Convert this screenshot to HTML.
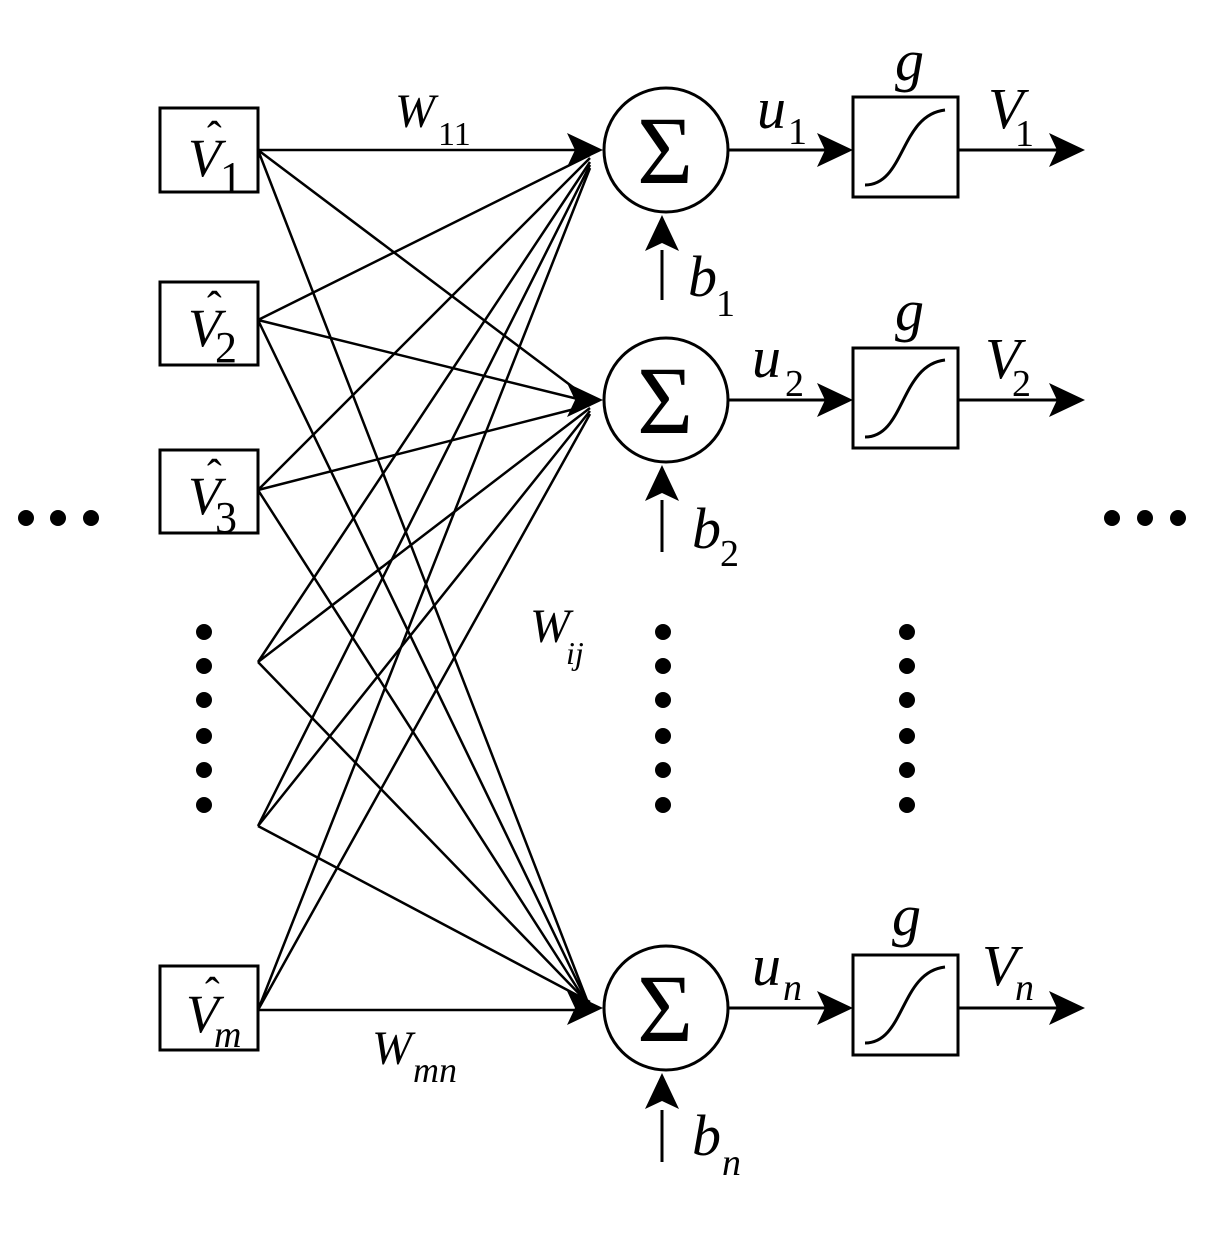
<!DOCTYPE html>
<html><head><style>body{margin:0;background:#fff}svg{display:block}svg text{font-family:"Liberation Serif","Times New Roman",Times,"Nimbus Roman",serif}</style></head>
<body>
<svg width="1231" height="1237" viewBox="0 0 1231 1237" xmlns="http://www.w3.org/2000/svg" font-style="italic">
<defs>
<path id="ah" d="M0,0 L-36,-17 L-28,0 L-36,17 Z" fill="#000"/>
</defs>
<g stroke="#000" stroke-width="3" fill="none">
<rect x="160" y="108" width="98" height="84"/>
<rect x="160" y="282" width="98" height="83"/>
<rect x="160" y="450" width="98" height="83"/>
<rect x="160" y="966" width="98" height="84"/>
<g stroke-width="2.5">
<path d="M258,150L590,150M258,150L590,400M258,150L590,1008"/>
<path d="M258,320L590,155M258,320L590,402M258,320L590,1008"/>
<path d="M258,490L590,158M258,490L590,405M258,490L590,1008"/>
<path d="M258,662L590,162M258,662L590,408M258,662L590,1005"/>
<path d="M258,826L590,165M258,826L590,411M258,826L590,1002"/>
<path d="M258,1010L590,168M258,1010L590,414M258,1010L590,1010"/>
</g>
<circle cx="666" cy="150" r="62"/>
<circle cx="666" cy="400" r="62"/>
<circle cx="666" cy="1008" r="62"/>
<rect x="853" y="97" width="105" height="100"/>
<rect x="853" y="348" width="105" height="100"/>
<rect x="853" y="955" width="105" height="100"/>
<path d="M865,185 C905,185 900,115 945,110"/>
<path d="M865,437 C905,437 900,365 945,360"/>
<path d="M865,1043 C905,1043 900,972 945,967"/>
<path d="M728,150H830M958,150H1060"/>
<path d="M728,400H830M958,400H1060"/>
<path d="M728,1008H830M958,1008H1060"/>
<path d="M662,250V300M662,500V552M662,1110V1162"/>
</g>
<use href="#ah" transform="translate(603,150)"/>
<use href="#ah" transform="translate(603,400)"/>
<use href="#ah" transform="translate(603,1008)"/>
<use href="#ah" transform="translate(853,150)"/>
<use href="#ah" transform="translate(853,400)"/>
<use href="#ah" transform="translate(853,1008)"/>
<use href="#ah" transform="translate(1085,150)"/>
<use href="#ah" transform="translate(1085,400)"/>
<use href="#ah" transform="translate(1085,1008)"/>
<use href="#ah" transform="translate(662,215) rotate(-90)"/>
<use href="#ah" transform="translate(662,465) rotate(-90)"/>
<use href="#ah" transform="translate(662,1073) rotate(-90)"/>
<g font-style="normal" font-size="96" text-anchor="middle">
<text x="665" y="183">Σ</text><text x="665" y="433">Σ</text><text x="665" y="1041">Σ</text>
</g>
<g font-size="54">
<text x="188" y="176">V</text><text x="188" y="346">V</text><text x="188" y="514">V</text><text x="186" y="1032">V</text>
</g>
<g font-style="normal" font-size="44">
<text x="207" y="152">ˆ</text><text x="207" y="322">ˆ</text><text x="207" y="490">ˆ</text><text x="205" y="1008">ˆ</text>
<text x="220" y="192">1</text><text x="215" y="362">2</text><text x="215" y="532">3</text>
</g>
<text x="214" y="1047" font-size="38">m</text>
<text x="395" y="127" font-size="48">W</text><text x="438" y="145" font-size="34" font-style="normal">11</text>
<text x="372" y="1064" font-size="48">W</text><text x="413" y="1082" font-size="36">mn</text>
<text x="530" y="642" font-size="48">W</text><text x="566" y="664" font-size="32">ij</text>
<g font-size="58">
<text x="757" y="128">u</text><text x="752" y="377">u</text><text x="752" y="985">u</text>
<text x="988" y="128">V</text><text x="985" y="378">V</text><text x="982" y="985">V</text>
<text x="895" y="80">g</text><text x="895" y="330">g</text><text x="892" y="935">g</text>
<text x="688" y="296">b</text><text x="692" y="548">b</text><text x="692" y="1155">b</text>
</g>
<g font-style="normal" font-size="38">
<text x="788" y="144">1</text><text x="785" y="396">2</text>
<text x="1015" y="146">1</text><text x="1012" y="396">2</text>
<text x="716" y="316">1</text><text x="720" y="566">2</text>
</g>
<g font-size="38">
<text x="783" y="1000">n</text><text x="1015" y="1000">n</text><text x="722" y="1175">n</text>
</g>
<g fill="#000">
<circle cx="26" cy="518" r="8"/><circle cx="58" cy="518" r="8"/><circle cx="91" cy="518" r="8"/>
<circle cx="1112" cy="518" r="8"/><circle cx="1145" cy="518" r="8"/><circle cx="1178" cy="518" r="8"/>
<circle cx="204" cy="632" r="8"/><circle cx="204" cy="666" r="8"/><circle cx="204" cy="700" r="8"/><circle cx="204" cy="736" r="8"/><circle cx="204" cy="770" r="8"/><circle cx="204" cy="805" r="8"/>
<circle cx="663" cy="632" r="8"/><circle cx="663" cy="666" r="8"/><circle cx="663" cy="700" r="8"/><circle cx="663" cy="736" r="8"/><circle cx="663" cy="770" r="8"/><circle cx="663" cy="805" r="8"/>
<circle cx="907" cy="632" r="8"/><circle cx="907" cy="666" r="8"/><circle cx="907" cy="700" r="8"/><circle cx="907" cy="736" r="8"/><circle cx="907" cy="770" r="8"/><circle cx="907" cy="805" r="8"/>
</g>
</svg>
</body></html>
